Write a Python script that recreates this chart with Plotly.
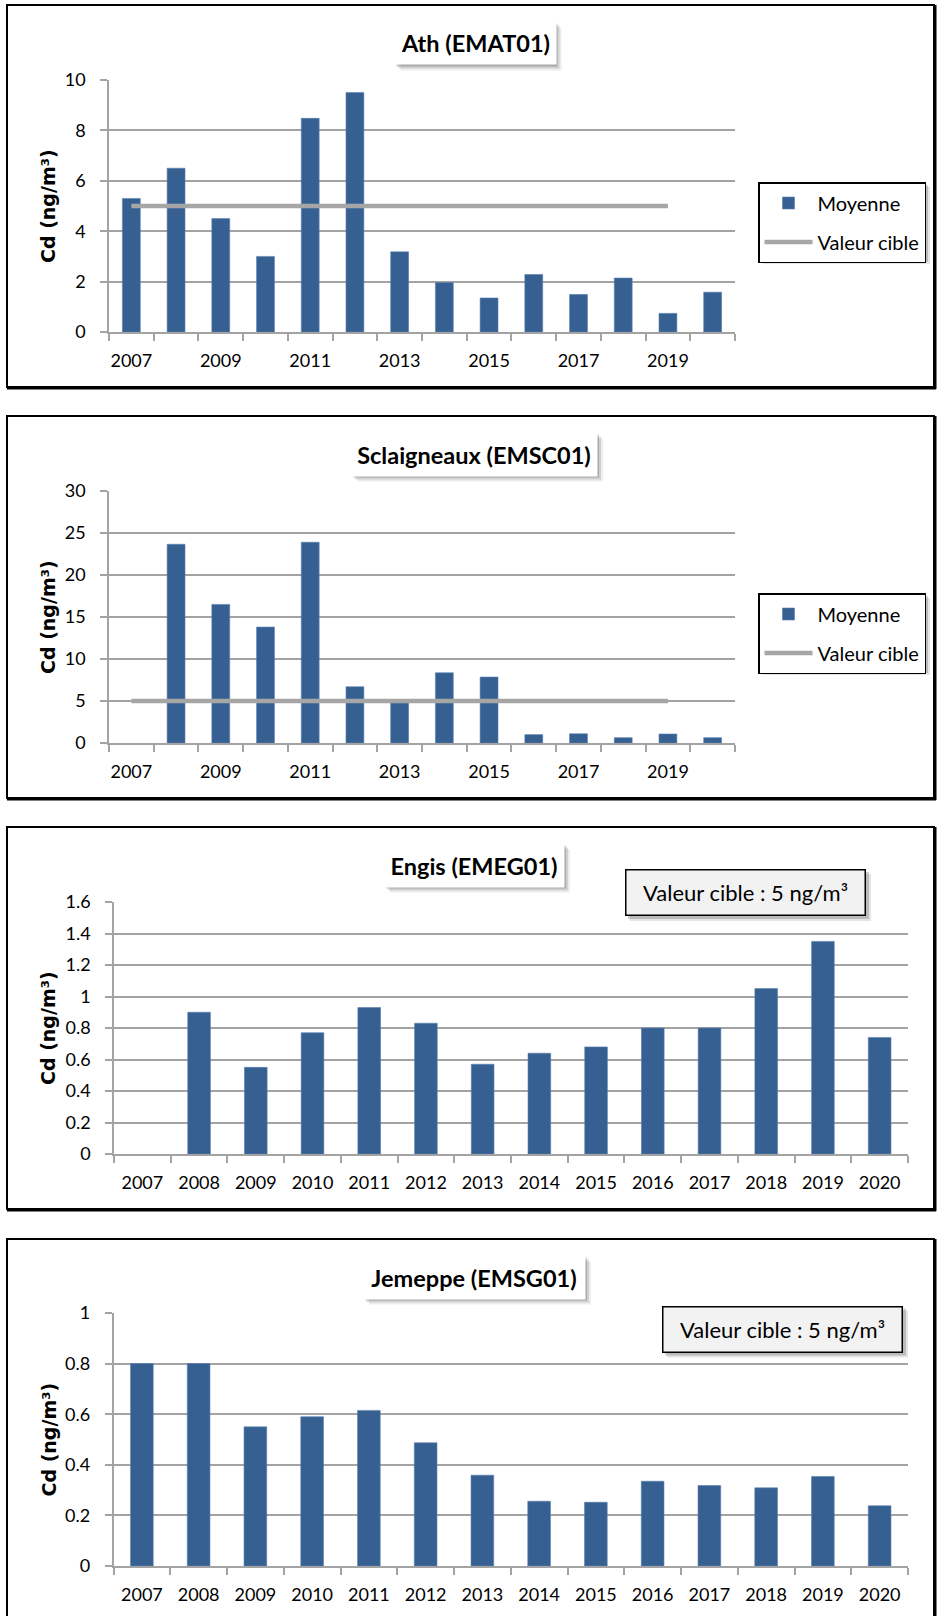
import plotly.graph_objects as go

# ---------------- data ----------------
years = [2007, 2008, 2009, 2010, 2011, 2012, 2013, 2014, 2015, 2016, 2017, 2018, 2019, 2020]

ath = [5.3, 6.5, 4.5, 3.0, 8.48, 9.5, 3.18, 1.96, 1.35, 2.28, 1.49, 2.14, 0.74, 1.58]
sclaigneaux = [None, 23.66, 16.5, 13.8, 23.9, 6.7, 4.8, 8.36, 7.85, 1.0, 1.1, 0.63, 1.07, 0.63]
engis = [None, 0.90, 0.55, 0.77, 0.93, 0.83, 0.57, 0.64, 0.68, 0.80, 0.80, 1.05, 1.35, 0.74]
jemeppe = [0.80, 0.80, 0.55, 0.59, 0.615, 0.487, 0.359, 0.256, 0.252, 0.335, 0.318, 0.309, 0.354, 0.238]

cible_years = [2007, 2008, 2009, 2010, 2011, 2012, 2013, 2014, 2015, 2016, 2017, 2018, 2019]
cible_values = [5, 5, 5, 5, 5, 5, 5, 5, 5, 5, 5, 5, 5]

odd_labels = [2007, 2009, 2011, 2013, 2015, 2017, 2019]
titles = ["Ath (EMAT01)", "Sclaigneaux (EMSC01)", "Engis (EMEG01)", "Jemeppe (EMSG01)"]
box_text = "Valeur cible : 5 ng/m³"
y_title = "Cd (ng/m³)"

# ---------------- styling helpers ----------------
W, H = 940, 1616
BAR = "#366092"
GRID = "#A3A3A3"
LINEC = "#A6A6A6"
FONT = "Lato"


def xp(px):
    return px / W


def yp(py):
    return 1 - py / H


fig = go.Figure()

panels = [
    dict(x0=109, x1=735, yt=80, yb=332, top=5),
    dict(x0=109, x1=735, yt=491, yb=743, top=416),
    dict(x0=114, x1=908, yt=902, yb=1154, top=827),
    dict(x0=113.5, x1=908, yt=1313, yb=1566, top=1239),
]
series = [ath, sclaigneaux, engis, jemeppe]
yranges = [(0, 10, 2), (0, 30, 5), (0, 1.6, 0.2), (0, 1, 0.2)]

for i, (p, vals) in enumerate(zip(panels, series)):
    n = "" if i == 0 else str(i + 1)
    xa, ya = "x" + n, "y" + n
    fig.add_trace(go.Bar(
        x=years, y=vals, width=0.4,
        marker=dict(color=BAR, line=dict(width=0.6, color="#5b7fae")),
        name="Moyenne", xaxis=xa, yaxis=ya,
        showlegend=(i < 2), legend=("legend" if i == 0 else "legend2"),
        legendgroup="m%d" % i,
    ))
    if i < 2:
        fig.add_trace(go.Scatter(
            x=cible_years, y=cible_values, mode="lines",
            line=dict(color=LINEC, width=4.5),
            name="Valeur cible", xaxis=xa, yaxis=ya,
            legend=("legend" if i == 0 else "legend2"),
            legendgroup="c%d" % i,
        ))

    ticklabels = odd_labels if i < 2 else years
    fig.layout["xaxis" + n] = dict(
        domain=[xp(p["x0"]), xp(p["x1"])],
        anchor=ya, range=[2006.5, 2020.5],
        tickmode="array", tickvals=ticklabels, ticktext=[str(t) for t in ticklabels],
        ticks="", showgrid=False, zeroline=False,
        showline=True, linecolor=GRID, linewidth=1.5,
        tickfont=dict(family=FONT, size=18, color="#000"),
        ticklabelstandoff=12,
        minor=dict(tick0=2006.5, dtick=1, ticks="outside", ticklen=7,
                   tickcolor=GRID, tickwidth=1.5, showgrid=False),
    )
    y0, y1, dt = yranges[i]
    fig.layout["yaxis" + n] = dict(
        domain=[yp(p["yb"]), yp(p["yt"])],
        anchor=xa, range=[y0, y1], tickmode="linear", tick0=0, dtick=dt,
        showgrid=True, gridcolor=GRID, gridwidth=1.5, zeroline=False,
        showline=True, linecolor=GRID, linewidth=1.5,
        ticks="outside", ticklen=7, tickcolor=GRID, tickwidth=1.5,
        tickfont=dict(family=FONT, size=18, color="#000"),
        ticklabelstandoff=11,
    )

    # panel border
    top = p["top"]
    bottom = top + 382
    fig.add_shape(type="rect", xref="paper", yref="paper",
                  x0=xp(7), x1=xp(934), y0=yp(bottom), y1=yp(top),
                  line=dict(color="#000", width=2), layer="above")
    fig.add_shape(type="line", xref="paper", yref="paper",
                  x0=xp(7), x1=xp(936), y0=yp(bottom + 1), y1=yp(bottom + 1),
                  line=dict(color="#000", width=3), layer="above")
    fig.add_shape(type="line", xref="paper", yref="paper",
                  x0=xp(935), x1=xp(935), y0=yp(bottom + 2), y1=yp(top),
                  line=dict(color="#000", width=3), layer="above")

    # y axis title
    fig.add_annotation(xref="paper", yref="paper", x=xp(48), y=yp((p["yt"] + p["yb"]) / 2),
                       xanchor="center", yanchor="middle",
                       text="<b>%s</b>" % y_title, textangle=-90, showarrow=False,
                       font=dict(family="DejaVu Sans", size=19, color="#000"))

# title boxes (center x, center y, width)
title_boxes = [(475, 43, 161), (474, 454, 246), (474, 865, 180), (474, 1277, 222)]
for t, (cx, cy, w) in zip(titles, title_boxes):
    h = 43
    for off, op in [(6, 0.07), (4, 0.12), (2, 0.18)]:
        fig.add_shape(type="rect", xref="paper", yref="paper",
                      x0=xp(cx - w / 2 + off), x1=xp(cx + w / 2 + off),
                      y0=yp(cy + h / 2 + off), y1=yp(cy - h / 2 + off),
                      line=dict(width=0), fillcolor="rgba(0,0,0,%.2f)" % op, layer="above")
    fig.add_annotation(xref="paper", yref="paper", x=xp(cx), y=yp(cy),
                       xanchor="center", yanchor="middle",
                       text="<b>%s</b>" % t, showarrow=False,
                       width=w, height=h, bgcolor="#FFFFFF", borderpad=0,
                       font=dict(family=FONT, size=23.5, color="#000"))

# "Valeur cible" boxes for panels 3 and 4
for cx, cy in [(745.5, 892.5), (782.5, 1329)]:
    w, h = 241, 47
    for off, op in [(5, 0.1), (3, 0.18)]:
        fig.add_shape(type="rect", xref="paper", yref="paper",
                      x0=xp(cx - w / 2 + off), x1=xp(cx + w / 2 + off),
                      y0=yp(cy + h / 2 + off), y1=yp(cy - h / 2 + off),
                      line=dict(width=0), fillcolor="rgba(0,0,0,%.2f)" % op, layer="above")
    fig.add_annotation(xref="paper", yref="paper", x=xp(cx), y=yp(cy),
                       xanchor="center", yanchor="middle",
                       text=box_text, showarrow=False,
                       width=w - 3, height=h - 3, bgcolor="#F2F2F2",
                       bordercolor="#000", borderwidth=1.5, borderpad=0,
                       font=dict(family=FONT, size=22, color="#000"))

# legend shadows
for top, bot in [(182, 259), (593, 670)]:
    for off, op in [(5, 0.1), (3, 0.18)]:
        fig.add_shape(type="rect", xref="paper", yref="paper",
                      x0=xp(758 + off), x1=xp(925 + off),
                      y0=yp(bot + off), y1=yp(top + off),
                      line=dict(width=0), fillcolor="rgba(0,0,0,%.2f)" % op, layer="above")

legend_common = dict(
    xanchor="left", yanchor="top", bgcolor="#FFFFFF",
    bordercolor="#000", borderwidth=1.5,
    font=dict(family=FONT, size=20, color="#000"),
    tracegroupgap=10, itemwidth=48, traceorder="grouped",
)
fig.update_layout(
    width=W, height=H, margin=dict(l=0, r=0, t=0, b=0, autoexpand=False),
    paper_bgcolor="#FFFFFF", plot_bgcolor="#FFFFFF",
    bargap=0.6,
    legend=dict(x=xp(758), y=yp(182), **legend_common),
    legend2=dict(x=xp(758), y=yp(593), **legend_common),
    font=dict(family=FONT, color="#000"),
)

fig.write_html("out.html",
               config={"displayModeBar": False},
               post_script="document.body.style.margin='0px';document.body.style.overflow='hidden';")
